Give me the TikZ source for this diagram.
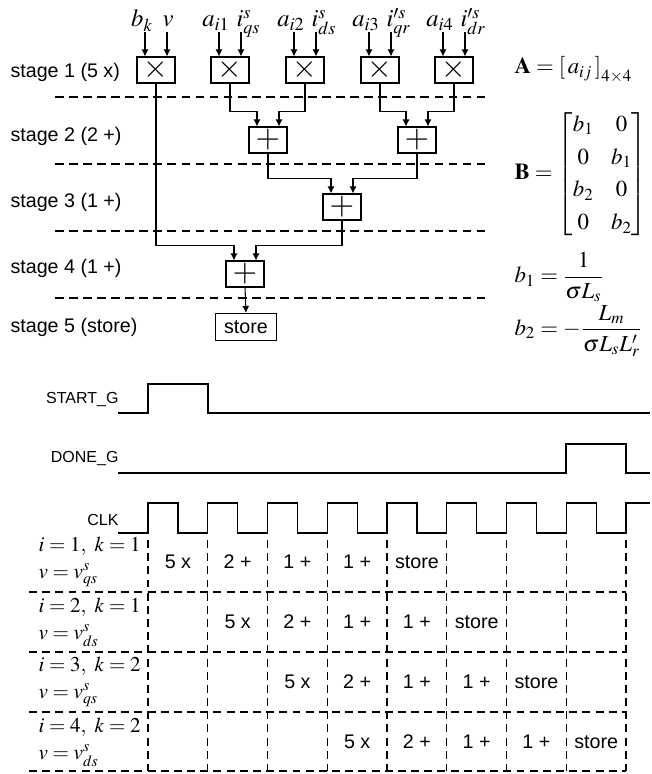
\documentclass[tikz,border=0pt]{standalone}
\usepackage{amsmath}
\usepackage{mathptmx}
\usepackage[no-math]{fontspec}
\setmainfont{Liberation Sans}
\usetikzlibrary{positioning,arrows.meta,calc}

\begin{document}
\begin{tikzpicture}[x=0.02cm,y=-0.02cm,line width=0.6pt,
    every node/.style={font=\fontsize{11.2}{13}\selectfont},
    opbox/.style={draw,minimum width=0.76cm,minimum height=0.52cm,inner sep=0pt,font=\fontsize{18}{18}\selectfont},
    storebox/.style={draw,minimum width=1.22cm,minimum height=0.54cm,inner sep=0pt},
    inlab/.style={inner sep=0pt,font=\fontsize{14}{16}\selectfont},
    eqlab/.style={anchor=west,inner sep=0pt,font=\fontsize{13}{15.5}\selectfont},
    siglab/.style={anchor=east,inner sep=0pt,font=\fontsize{9.1}{11}\selectfont},
    rowlab/.style={anchor=west,align=left,inner sep=0pt,font=\fontsize{12}{15.5}\selectfont},
    arr/.style={-{Latex[length=4pt,width=4pt]}},
    stageline/.style={dash pattern=on 5pt off 3pt},
    gridline/.style={dash pattern=on 4.5pt off 3pt}]
    \useasboundingbox (0,0) rectangle (652,774);
    % stage labels and separators
    \foreach \s/\t/\y in {1/5 x/72,2/2 +/136,3/1 +/202,4/1 +/268,5/store/327}
      \node[anchor=west,inner sep=0pt] (stage\s) at (10,\y) {stage \s\ (\t)};
    \foreach \y in {97,164,231,298}
      \draw[stageline] (55,\y) -- (490,\y);
    % multipliers with their inputs
    \foreach \i/\x/\l/\r in {1/156/{b_k}/{v},2/230/{a_{i1}}/{i^s_{qs}},3/305/{a_{i2}}/{i^s_{ds}},
        4/380/{a_{i3}}/{i^{\prime s}_{qr}},5/454/{a_{i4}}/{i^{\prime s}_{dr}}} {
      \node[opbox] (m\i) at (\x,70) {$\times$};
      \node[inlab,anchor=base] (inl\i) at (\x-14,27) {$\l$};
      \node[inlab,anchor=base west] (inr\i) at (\x+6,27) {$\r$};
      \draw[arr] ($(m\i.north)+(-11,-24)$) -- ($(m\i.north)+(-11,0)$);
      \draw[arr] ($(m\i.north)+(11,-24)$) -- ($(m\i.north)+(11,0)$);
    }
    % adders
    \node[opbox] (p1) at (268,140) {$+$};
    \node[opbox] (p2) at (417,140) {$+$};
    \node[opbox] (q) at (342,207) {$+$};
    \node[opbox] (f) at (245,274) {$+$};
    \node[storebox] (store) at (246,327) {store};
    \foreach \a/\b/\s in {m2/m3/p1,m4/m5/p2,p1/p2/q,m1/q/f} {
      \draw[arr] (\a.south) |- ($(\s.north)+(-11,-15)$) -- ($(\s.north)+(-11,0)$);
      \draw[arr] (\b.south) |- ($(\s.north)+(11,-15)$) -- ($(\s.north)+(11,0)$);
    }
    \draw[arr] (f.south) -- (store.north);
    % matrices
    \node[eqlab] (matA) at (514,70) {$\mathbf{A}=\left[\,a_{ij}\,\right]_{4\times 4}$};
    \node[eqlab] (matB) at (514,174) {$\mathbf{B}=\renewcommand{\arraystretch}{1.2}\setlength{\arraycolsep}{5pt}%
      \begin{bmatrix}b_1 & 0\\ 0 & b_1\\ b_2 & 0\\ 0 & b_2\end{bmatrix}$};
    \node[eqlab] (eqb1) at (514,277) {$b_1=\dfrac{1}{\sigma L_s}$};
    \node[eqlab] (eqb2) at (514,331) {$b_2=-\dfrac{L_m}{\sigma L_s L'_r}$};
    % timing
    \node[siglab] (startg) at (119,400) {START\_G};
    \node[siglab] (doneg) at (119,459) {DONE\_G};
    \node[siglab] (clk) at (119,520) {CLK};
    \draw (118,413) -- (148,413) -- (148,384) -- (208,384) -- (208,413) -- (650,413);
    \draw (118,473) -- (566,473) -- (566,444) -- (626,444) -- (626,473) -- (650,473);
    \draw (118,533) \foreach \k in {0,...,7} {
        -- ({148+59.75*\k},533) -- ({148+59.75*\k},503) -- ({178+59.75*\k},503) -- ({178+59.75*\k},533)}
      -- (626,533) -- (626,503) -- (650,503);
    % pipeline table
    \foreach \k in {0,...,8}
      \draw[gridline] ({148+59.75*\k},540) -- ({148+59.75*\k},771);
    \foreach \y in {592,652,712,771}
      \draw[gridline] (29,\y) -- (626,\y);
    \foreach \r/\i/\k/\s in {0/1/1/qs,1/2/1/ds,2/3/2/qs,3/4/2/ds} {
      \node[rowlab] (row\r) at (38,{562+60*\r}) {$i=\i,\ k=\k$\\$v=v^s_{\s}$};
      \foreach \j/\t in {0/5 x,1/2 +,2/1 +,3/1 +,4/store}
        \node (c\r\j) at ({148+59.75*(\r+\j+0.5)},{562+60*\r}) {\t};
    }
\end{tikzpicture}
\end{document}
